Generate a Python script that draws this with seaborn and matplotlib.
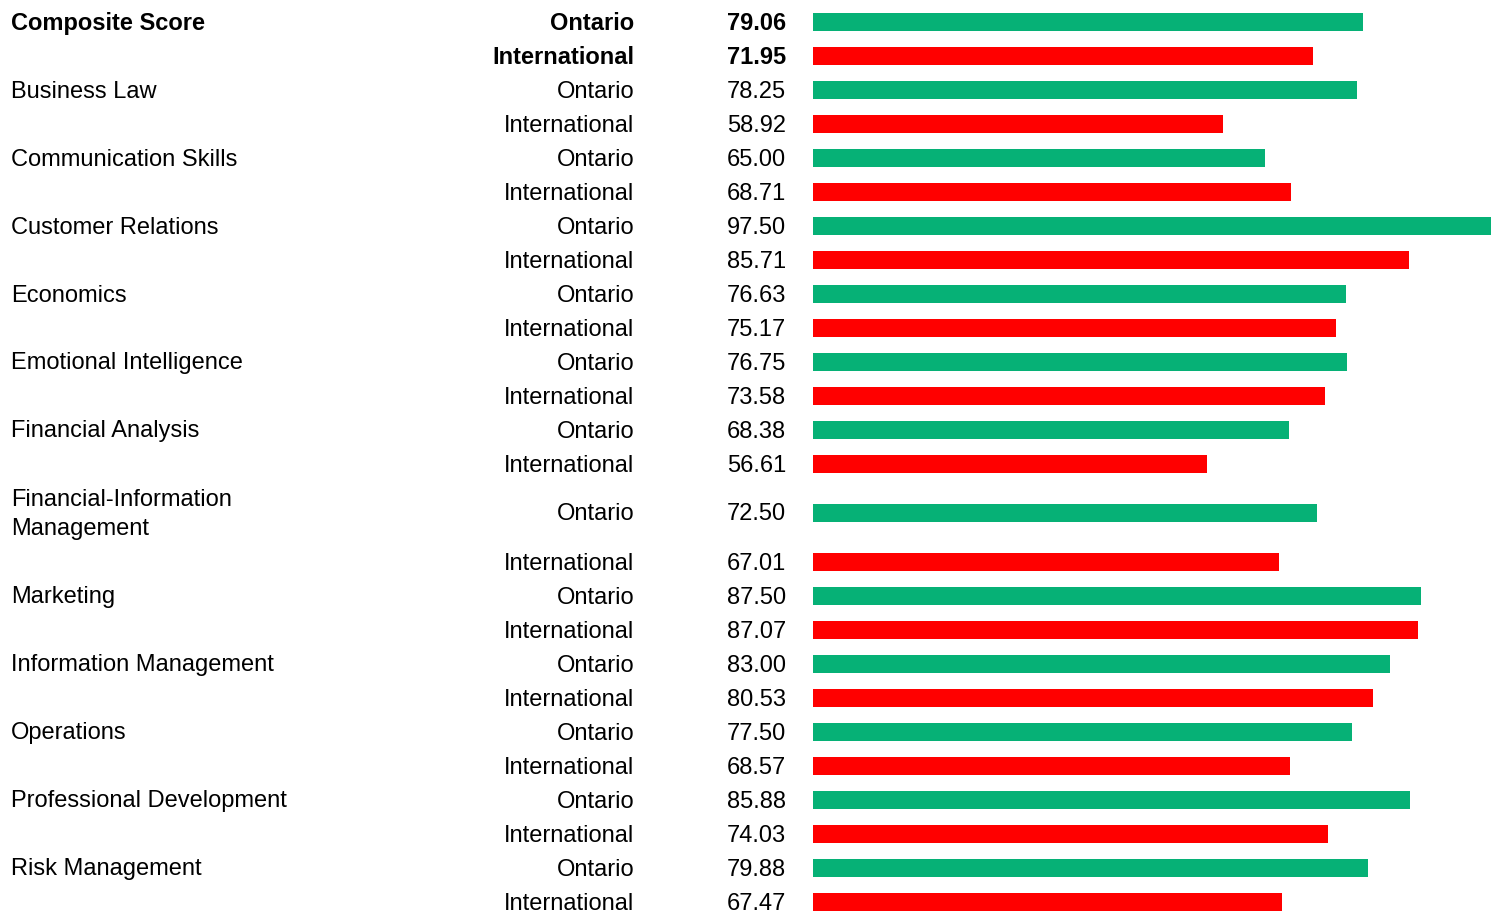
import numpy as np
import pandas as pd
import matplotlib
matplotlib.use("Agg")
import matplotlib.pyplot as plt
import matplotlib.transforms as mtransforms
import seaborn as sns

categories = [
    "Composite Score", "Business Law", "Communication Skills", "Customer Relations",
    "Economics", "Emotional Intelligence", "Financial Analysis",
    "Financial-Information\nManagement", "Marketing", "Information Management",
    "Operations", "Professional Development", "Risk Management",
]
groups = ["Ontario", "International"]
ontario = [79.06, 78.25, 65.00, 97.50, 76.63, 76.75, 68.38, 72.50, 87.50, 83.00, 77.50, 85.88, 79.88]
international = [71.95, 58.92, 68.71, 85.71, 75.17, 73.58, 56.61, 67.01, 87.07, 80.53, 68.57, 74.03, 67.47]

GREEN = "#06B176"
RED = "#FF0000"

sns.set_theme(style="white")
plt.rcParams["font.family"] = ["Liberation Sans", "DejaVu Sans"]

# one row per (category, group); two-line category names get a taller first row
rows = []
for cat, o, i in zip(categories, ontario, international):
    tall = "\n" in cat
    rows.append((cat, "Ontario", o, 64 / 34 if tall else 1.0))
    rows.append((cat, "International", i, 1.0))
df = pd.DataFrame(rows, columns=["category", "group", "score", "height"])
df["pos"] = df["height"].cumsum() - df["height"] / 2

W, H = 1497, 913
fig = plt.figure(figsize=(W / 100, H / 100), dpi=100)
x0, x1 = 813 / W, 1491 / W
ax = fig.add_axes([x0, 0, x1 - x0, 1])

sns.barplot(
    data=df, x="score", y="pos", hue="group", orient="h", native_scale=True,
    palette={"Ontario": GREEN, "International": RED}, dodge=False,
    width=0.52, errorbar=None, legend=False, saturation=1, linewidth=0, ax=ax,
)
ax.set_xlim(0, max(ontario + international))
ax.set_ylim((H - 5) / 34, -5 / 34)
ax.set_axis_off()

trans = mtransforms.blended_transform_factory(fig.transFigure, ax.transData)
trans = mtransforms.offset_copy(trans, fig=fig, x=0, y=-1.5, units="dots")
fs = 17
for idx, r in df.iterrows():
    bold = r["category"] == categories[0]
    weight = "bold" if bold else "normal"
    if r["group"] == "Ontario":
        ax.text(11 / W, r["pos"], r["category"], transform=trans, ha="left",
                va="center", fontsize=fs, fontweight=weight, linespacing=1.41,
                color="black")
    ax.text(634 / W, r["pos"], r["group"], transform=trans, ha="right",
            va="center", fontsize=fs, fontweight=weight, color="black")
    ax.text(786 / W, r["pos"], f"{r['score']:.2f}", transform=trans, ha="right",
            va="center", fontsize=fs, fontweight=weight, color="black")

fig.savefig("out.png", dpi=100)
